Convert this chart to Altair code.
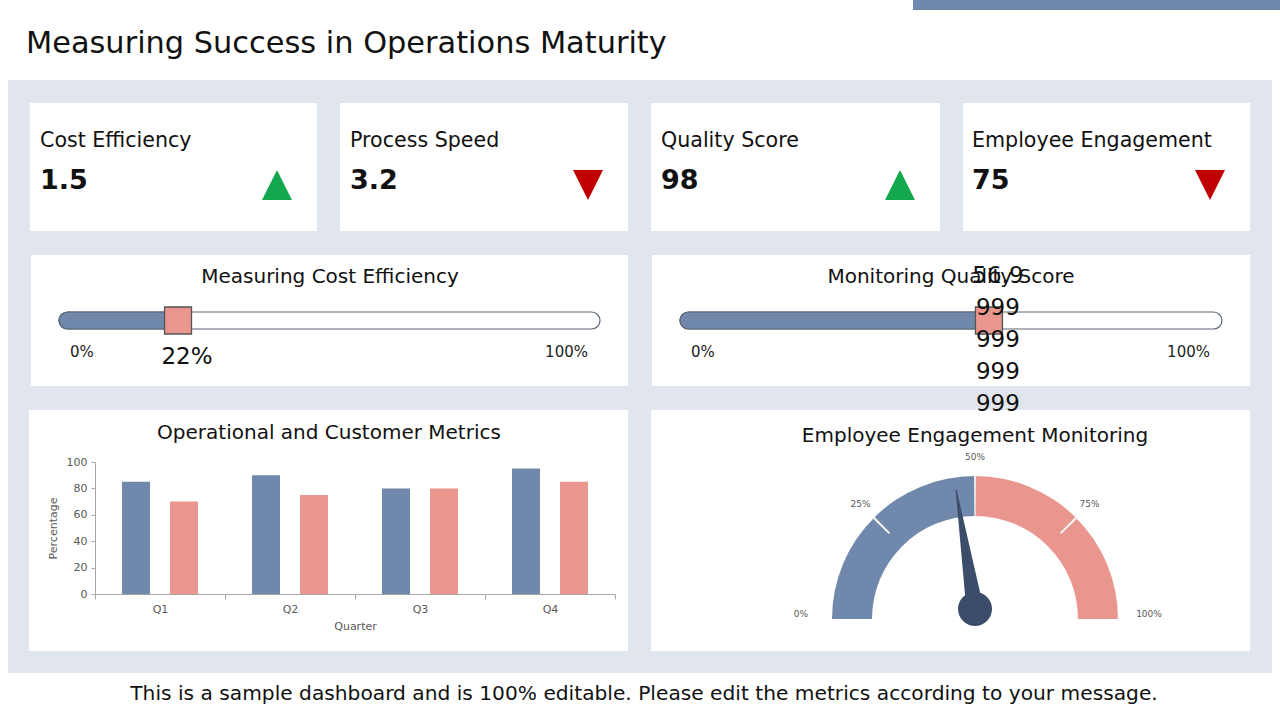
import altair as alt
import pandas as pd

# ---------------- data ----------------
kpi_names = ["Cost Efficiency", "Process Speed", "Quality Score", "Employee Engagement"]
kpi_values = ["1.5", "3.2", "98", "75"]
kpi_trend = ["up", "down", "up", "down"]

slider_titles = ["Measuring Cost Efficiency", "Monitoring Quality Score"]
slider_values = [22, 56.9999]
slider_texts = ["22%", "56.9\n999\n999\n999\n999"]
slider_min = 0
slider_max = 100
slider_end_labels = ["0%", "100%"]

quarters = ["Q1", "Q2", "Q3", "Q4"]
series_names = ["Operational", "Customer"]
operational = [85, 90, 80, 95]
customer = [70, 75, 80, 85]

gauge_value = 45
gauge_ticks = [0, 25, 50, 75, 100]
gauge_tick_labels = ["0%", "25%", "50%", "75%", "100%"]

title_text = "Measuring Success in Operations Maturity"
chart_titles = ["Operational and Customer Metrics", "Employee Engagement Monitoring"]
footer_text = "This is a sample dashboard and is 100% editable. Please edit the metrics according to your message."

# ---------------- layout / style ----------------
W, H = 1280, 720
FONT = "DejaVu Sans"
BLUE = "#7088AB"
SALMON = "#E8968E"
NAVY = "#3C4D6B"
PANEL = "#E1E6EE"
GREEN = "#14A84E"
RED = "#C00000"
GREY_TXT = "#595959"

XS = alt.Scale(domain=[0, W], range=[0, W], nice=False, zero=False)
YS = alt.Scale(domain=[0, H], range=[0, H], nice=False, zero=False)


def cx(f):
    return alt.X(f, type="quantitative", scale=XS, axis=None)


def cy(f):
    return alt.Y(f, type="quantitative", scale=YS, axis=None)


def rect_layer(df, color, **kw):
    return alt.Chart(df).mark_rect(color=color, **kw).encode(
        x=cx("x0"), x2="x1", y=cy("y0"), y2="y1")


def text_layer(df, size, weight="normal", align="center", baseline="middle", color="#111111"):
    return alt.Chart(df).mark_text(font=FONT, fontSize=size, fontWeight=weight, align=align,
                                   baseline=baseline, color=color).encode(
        x=cx("x"), y=cy("y"), text="text:N")


layers = []

# top accent bar, title, panel
layers.append(rect_layer(pd.DataFrame({"x0": [913], "x1": [1280], "y0": [0], "y1": [10]}), BLUE))
layers.append(text_layer(pd.DataFrame({"x": [26], "y": [44], "text": [title_text]}), 30.4, align="left"))
layers.append(rect_layer(pd.DataFrame({"x0": [8], "x1": [1272], "y0": [80], "y1": [673]}), PANEL))

# white cards
cards = pd.DataFrame({
    "x0": [30, 340, 651, 963, 31, 652, 29, 651],
    "x1": [317, 628, 940, 1250, 628, 1250, 628, 1250],
    "y0": [103] * 4 + [255] * 2 + [410] * 2,
    "y1": [231] * 4 + [386] * 2 + [651] * 2,
})
layers.append(rect_layer(cards, "white"))

# KPI cards
kpi_x = [40, 350, 661, 972]
tri_x = [277, 588, 900, 1210]
layers.append(text_layer(pd.DataFrame({"x": kpi_x, "y": [141] * 4, "text": kpi_names}), 20.6, align="left"))
layers.append(text_layer(pd.DataFrame({"x": kpi_x, "y": [181] * 4, "text": kpi_values}), 27,
                         weight="bold", align="left"))
tri_df = pd.DataFrame({"x": tri_x, "y": [185] * 4, "trend": kpi_trend})
layers.append(alt.Chart(tri_df).mark_point(filled=True, opacity=1, size=900).encode(
    x=cx("x"), y=cy("y"),
    shape=alt.Shape("trend:N", legend=None, scale=alt.Scale(
        domain=["up", "down"], range=["M 0 -1 L 1 1 L -1 1 Z", "M -1 -1 L 1 -1 L 0 1 Z"])),
    color=alt.Color("trend:N", legend=None, scale=alt.Scale(domain=["up", "down"], range=[GREEN, RED])),
))

# slider titles
layers.append(text_layer(pd.DataFrame({"x": [330, 951], "y": [277, 277], "text": slider_titles}), 20))

# sliders
slider_ranges = [(59, 600), (680, 1222)]
for i in range(2):
    r0, r1 = slider_ranges[i]
    S = alt.Scale(domain=[slider_min, slider_max], range=[r0, r1], nice=False, zero=False)
    df = pd.DataFrame({"lo": [slider_min], "hi": [slider_max], "value": [slider_values[i]],
                       "text": [slider_texts[i]], "y0": [312], "y1": [329], "ym": [320.5],
                       "yt": [346 if i == 0 else 265], "yl": [352],
                       "l0": [slider_end_labels[0]], "l1": [slider_end_labels[1]]})

    def xs(f, S=S):
        return alt.X(f, type="quantitative", scale=S, axis=None)

    layers.append(alt.Chart(df).mark_rect(fill="white", stroke="#5B6576", strokeWidth=1.2,
                                          cornerRadius=8.5).encode(x=xs("lo"), x2="hi", y=cy("y0"), y2="y1"))
    layers.append(alt.Chart(df).mark_rect(fill=BLUE, stroke="#5B6576", strokeWidth=1.2,
                                          cornerRadiusTopLeft=8.5, cornerRadiusBottomLeft=8.5).encode(
        x=xs("lo"), x2="value", y=cy("y0"), y2="y1"))
    layers.append(alt.Chart(df).mark_square(size=729, filled=True, opacity=1, color=SALMON,
                                            stroke="#555555", strokeWidth=1.3).encode(x=xs("value"), y=cy("ym")))
    layers.append(alt.Chart(df).mark_text(font=FONT, fontSize=15, align="left", baseline="middle",
                                          dx=11, color="#222222").encode(x=xs("lo"), y=cy("yl"), text="l0:N"))
    layers.append(alt.Chart(df).mark_text(font=FONT, fontSize=15, align="right", baseline="middle",
                                          dx=-12, color="#222222").encode(x=xs("hi"), y=cy("yl"), text="l1:N"))
    layers.append(alt.Chart(df).mark_text(font=FONT, fontSize=23, align="center", baseline="top",
                                          dx=9, lineBreak="\n", lineHeight=32, color="#111111").encode(
        x=xs("value"), y=cy("yt"), text="text:N"))

# bottom chart titles
layers.append(text_layer(pd.DataFrame({"x": [329, 975], "y": [433, 436], "text": chart_titles}), 20))

# grouped bar chart
AX = dict(labelFont=FONT, labelFontSize=11, labelColor=GREY_TXT, titleFont=FONT, titleFontSize=11,
          titleFontWeight="normal", titleColor=GREY_TXT, domainColor="#A6A6A6", tickColor="#A6A6A6",
          grid=False, zindex=1)
bars = pd.DataFrame({
    "Quarter": quarters * 2,
    "Metric": [series_names[0]] * 4 + [series_names[1]] * 4,
    "Percentage": operational + customer,
})
layers.append(alt.Chart(bars).mark_bar().encode(
    x=alt.X("Quarter:N", sort=quarters, title="Quarter",
            scale=alt.Scale(range=[95, 615], paddingInner=0, paddingOuter=0),
            axis=alt.Axis(orient="bottom", offset=-126, labelAngle=0, tickBand="extent", tickSize=5,
                          labelPadding=4, titlePadding=6, **AX)),
    xOffset=alt.XOffset("Metric:N", sort=series_names,
                        scale=alt.Scale(paddingInner=0.4167, paddingOuter=0.5625)),
    y=alt.Y("Percentage:Q", title="Percentage",
            scale=alt.Scale(domain=[0, 100], range=[594, 462], nice=False, zero=True),
            axis=alt.Axis(orient="left", offset=-95, values=[0, 20, 40, 60, 80, 100], tickSize=4,
                          labelPadding=4, titlePadding=8, **AX)),
    color=alt.Color("Metric:N", sort=series_names, legend=None,
                    scale=alt.Scale(domain=series_names, range=[BLUE, SALMON])),
))

# gauge
GX, GY = 975, 619
TH = alt.Scale(domain=[0, 100], range=[-3.14159265 / 2, 3.14159265 / 2], nice=False, zero=False)
gauge_seg = pd.DataFrame({"start": [0, 50], "end": [50, 100], "part": ["low", "high"]})
layers.append(alt.Chart(gauge_seg).mark_arc(radius=143, radius2=103).encode(
    x=alt.value(GX), y=alt.value(GY),
    theta=alt.Theta("start:Q", scale=TH, stack=None), theta2="end:Q",
    color=alt.Color("part:N", legend=None, scale=alt.Scale(domain=["low", "high"], range=[BLUE, SALMON])),
))
sep_q = pd.DataFrame({"t": [gauge_ticks[1], gauge_ticks[3]]})
sep_q["a"] = sep_q["t"] - 0.25
sep_q["b"] = sep_q["t"] + 0.25
layers.append(alt.Chart(sep_q).mark_arc(radius=143, radius2=121, color="#F4F4F4").encode(
    x=alt.value(GX), y=alt.value(GY),
    theta=alt.Theta("a:Q", scale=TH, stack=None), theta2="b:Q",
))
sep_h = pd.DataFrame({"t": [gauge_ticks[2]]})
sep_h["a"] = sep_h["t"] - 0.2
sep_h["b"] = sep_h["t"] + 0.2
layers.append(alt.Chart(sep_h).mark_arc(radius=143, radius2=103, color="#F4F4F4").encode(
    x=alt.value(GX), y=alt.value(GY),
    theta=alt.Theta("a:Q", scale=TH, stack=None), theta2="b:Q",
))
glab_in = pd.DataFrame({"t": gauge_ticks[1:4], "text": gauge_tick_labels[1:4]})
layers.append(alt.Chart(glab_in).mark_text(font=FONT, fontSize=9, radius=162, color=GREY_TXT,
                                           align="center", baseline="middle").encode(
    x=alt.value(GX), y=alt.value(GY),
    theta=alt.Theta("t:Q", scale=TH, stack=None), text="text:N",
))
glab_end = pd.DataFrame({"t": [gauge_ticks[0], gauge_ticks[4]],
                         "text": [gauge_tick_labels[0], gauge_tick_labels[4]]})
layers.append(alt.Chart(glab_end).mark_text(font=FONT, fontSize=9, radius=174, color=GREY_TXT,
                                            align="center", baseline="middle").encode(
    x=alt.value(GX), y=alt.value(GY - 5),
    theta=alt.Theta("t:Q", scale=TH, stack=None), text="text:N",
))
needle = pd.DataFrame({"value": [gauge_value]})
layers.append(alt.Chart(needle).mark_point(shape="M -0.075 0.05 L -0.004 -1 L 0.004 -1 L 0.075 0.05 Z",
                                           filled=True, opacity=1, color=NAVY, size=58564).encode(
    x=alt.value(GX), y=alt.value(609),
    angle=alt.Angle("value:Q", scale=alt.Scale(domain=[0, 100], range=[270, 450]), legend=None),
))
layers.append(alt.Chart(needle).mark_circle(size=1156, opacity=1, color=NAVY).encode(
    x=alt.value(GX), y=alt.value(609)))

# footer
layers.append(text_layer(pd.DataFrame({"x": [644], "y": [694], "text": [footer_text]}), 20.2))

chart = alt.layer(*layers).resolve_scale(
    x="independent", y="independent", color="independent", theta="independent",
    angle="independent", shape="independent",
).properties(
    width=W, height=H, padding=0, autosize=alt.AutoSizeParams(type="none"), background="white"
).configure_view(stroke=None)

chart.save("out.html", embed_options={"renderer": "svg", "actions": False})
